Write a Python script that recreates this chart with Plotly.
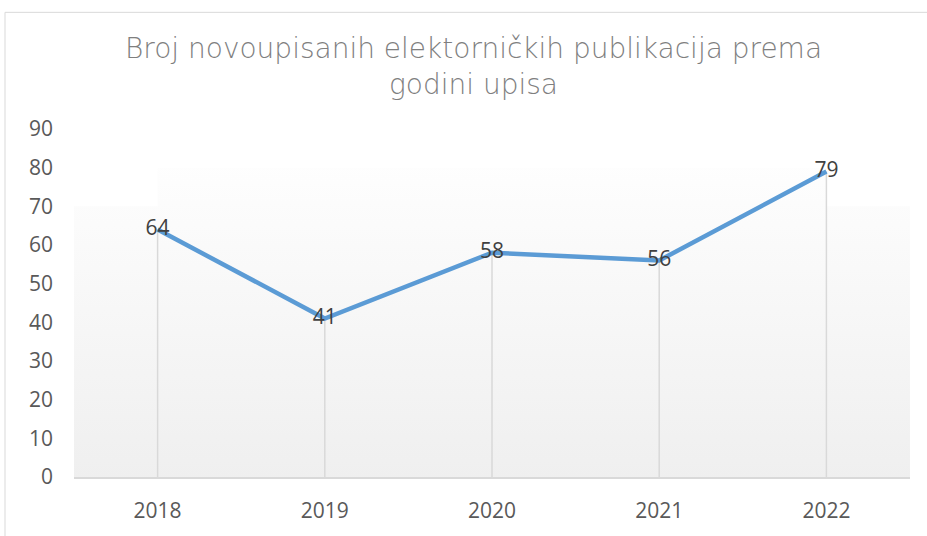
import plotly.graph_objects as go

years = ["2018", "2019", "2020", "2021", "2022"]
values = [64, 41, 58, 56, 79]
y_ticks = [0, 10, 20, 30, 40, 50, 60, 70, 80, 90]
title_text = "Broj novoupisanih elektorničkih publikacija prema<br>godini upisa"

W, H = 927, 536
L, R, T, B = 74, 17, 129, 55
PW, PH = W - L - R, H - T - B

def px(xp):
    return (xp - L) / PW

def py(yp):
    return (H - B - yp) / PH

xs = list(range(len(years)))
n = len(years)

fig = go.Figure()

grad = dict(type="vertical", start=0, stop=82,
            colorscale=[[0, "#efefef"], [1, "#fefefe"]])
# back wall (outer)
fig.add_trace(go.Scatter(x=[-0.5, n - 0.5, n - 0.5, -0.5, -0.5], y=[0, 0, 70, 70, 0],
                         mode="lines", line=dict(width=0), fill="toself",
                         fillgradient=grad, hoverinfo="skip", showlegend=False))
# back wall (inner)
fig.add_trace(go.Scatter(x=[0, n - 1, n - 1, 0, 0], y=[0, 0, 80, 80, 0],
                         mode="lines", line=dict(width=0), fill="toself",
                         fillgradient=grad, hoverinfo="skip", showlegend=False))

# drop lines
dx, dy = [], []
for x, v in zip(xs, values):
    dx += [x, x, None]
    dy += [0, v, None]
fig.add_trace(go.Scatter(x=dx, y=dy, mode="lines", line=dict(color="#d9d9d9", width=1.5),
                         hoverinfo="skip", showlegend=False))

fig.add_trace(go.Scatter(x=xs, y=values, mode="lines+text",
                         line=dict(color="#5B9BD5", width=4.5),
                         text=[str(v) for v in values], textposition="middle center",
                         textfont=dict(family="Open Sans", size=21, color="#404040"),
                         showlegend=False))

fig.update_xaxes(range=[-0.5, n - 0.5], tickvals=xs, ticktext=years,
                 showgrid=False, zeroline=False, showline=True, linecolor="#d9d9d9",
                 linewidth=1.5, ticks="", ticklabelstandoff=14,
                 tickfont=dict(family="Open Sans", size=21, color="#595959"))
fig.update_yaxes(range=[0, 90], tickvals=y_ticks, showgrid=False, zeroline=False,
                 showline=False, ticks="", ticklabelstandoff=20,
                 tickfont=dict(family="Open Sans", size=21, color="#595959"))

fig.add_shape(type="rect", xref="paper", yref="paper",
              x0=px(5), x1=px(940), y0=py(550), y1=py(11),
              line=dict(color="#d9d9d9", width=1), fillcolor="rgba(0,0,0,0)", layer="below")

fig.add_annotation(text=title_text, xref="paper", yref="paper", x=px(473), y=py(66),
                   xanchor="center", yanchor="middle", showarrow=False,
                   font=dict(family="DejaVu Sans", size=28, color="#7f7f7f", weight=200))

fig.update_layout(width=W, height=H, margin=dict(l=L, r=R, t=T, b=B),
                  paper_bgcolor="white", plot_bgcolor="white")

fig.write_html("out.html", config={"displayModeBar": False},
               post_script="document.body.style.margin='0';")
